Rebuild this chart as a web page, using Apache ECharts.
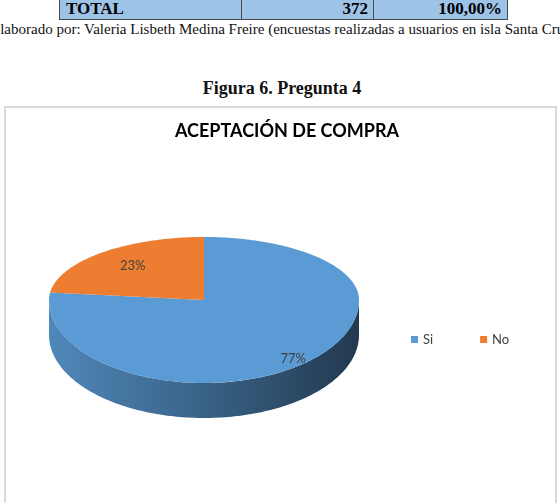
<!DOCTYPE html>
<html>
<head>
<meta charset="utf-8">
<script src="https://cdn.jsdelivr.net/npm/echarts@6/dist/echarts.min.js"></script>
<style>
  body { margin: 0; width: 560px; height: 503px; overflow: hidden; background: #fff; position: relative; font-family: "Liberation Serif", serif; }
  #tabla { position: absolute; left: 59px; top: -3px; border-collapse: collapse; }
  #tabla td { background: #9dc3e6; border: 1px solid #4a4a4a; font-weight: bold; font-size: 17px; height: 22px; padding: 0 5px 0 6px; box-sizing: border-box; }
  #fuente { position: absolute; left: -9px; top: 21px; font-size: 15px; white-space: nowrap; color: #111; }
  #figura { position: absolute; left: 0; width: 564px; top: 78px; text-align: center; font-weight: bold; font-size: 18px; color: #111; }
  #marco { position: absolute; left: 4px; top: 106px; width: 553px; height: 420px; border: 2px solid #dadada; box-sizing: border-box; }
  #main { position: absolute; left: 0; top: 0; width: 560px; height: 503px; }
</style>
</head>
<body>
<table id="tabla">
  <tr>
    <td style="width:182px">TOTAL</td>
    <td id="total" style="width:132px;text-align:right"></td>
    <td id="pct" style="width:134px;text-align:right"></td>
  </tr>
</table>
<div id="fuente">Elaborado por: Valeria Lisbeth Medina Freire (encuestas realizadas a usuarios en isla Santa Cruz)</div>
<div id="figura">Figura 6. Pregunta 4</div>
<div id="marco"></div>
<div id="main"></div>
<script>
// respuestas (suman 372)
const categories = ["Si", "No"];
const values = [286, 86];
const colors = ["#5B9BD5", "#ED7D31"];

const total = values.reduce((a, b) => a + b, 0);
document.getElementById("total").textContent = total;
document.getElementById("pct").textContent = "100,00%";

// geometria del pastel 3D
const CX = 204, CY = 300, RX = 155, RY_BACK = 63, RY_FRONT = 83, DEPTH = 35;

function pt(t, dy) {
  const s = Math.sin(t), c = Math.cos(t);
  const ry = c >= 0 ? RY_BACK : RY_FRONT;
  return [CX + RX * s, CY - ry * c + (dy || 0)];
}

function arc(a0, a1, dy) {
  const pts = [];
  const n = Math.max(2, Math.ceil((a1 - a0) / 0.02));
  for (let k = 0; k <= n; k++) pts.push(pt(a0 + (a1 - a0) * k / n, dy));
  return pts;
}

// oscurecer un color multiplicando sus canales
function shade(color, f) {
  const c = echarts.color.parse(color);
  return "rgb(" + Math.round(c[0] * f) + "," + Math.round(c[1] * f) + "," + Math.round(c[2] * f) + ")";
}

function renderSlice(idx) {
  return function (params, api) {
    let before = 0;
    for (let i = 0; i < idx; i++) before += values[i];
    const v = api.value(0);
    const a0 = 2 * Math.PI * before / total;
    const a1 = a0 + 2 * Math.PI * v / total;
    const color = colors[idx];
    const children = [];

    // lado visible (mitad frontal)
    const s0 = Math.max(a0, Math.PI / 2), s1 = Math.min(a1, 3 * Math.PI / 2);
    if (s1 > s0) {
      const pts = arc(s0, s1, 0).concat(arc(s0, s1, DEPTH).reverse());
      children.push({
        type: "polygon",
        shape: { points: pts },
        style: {
          fill: {
            type: "linear", x: CX - RX, y: 0, x2: CX + RX, y2: 0, global: true,
            colorStops: [
              { offset: 0, color: shade(color, 0.88) },
              { offset: 0.5, color: shade(color, 0.63) },
              { offset: 1, color: shade(color, 0.37) }
            ]
          }
        }
      });
    }

    // cara superior
    children.push({
      type: "polygon",
      shape: { points: [[CX, CY]].concat(arc(a0, a1, 0)) },
      style: { fill: color }
    });

    // etiqueta
    const m = (a0 + a1) / 2;
    const s = Math.sin(m), c = Math.cos(m);
    const ry = c >= 0 ? RY_BACK : RY_FRONT;
    children.push({
      type: "text",
      x: CX + 9 + RX * s * 0.78,
      y: CY + 6 - ry * c * 0.85,
      style: {
        text: Math.round(v / total * 100) + "%",
        fill: "#404040",
        font: "13px Lato",
        align: "center",
        verticalAlign: "middle"
      }
    });
    return { type: "group", children: children };
  };
}

const chart = echarts.init(document.getElementById("main"));
chart.setOption({
  animation: false,
  color: colors,
  title: {
    text: "ACEPTACIÓN DE COMPRA",
    left: 282,
    textAlign: "center",
    top: 117,
    textStyle: { fontFamily: "Lato", fontWeight: "bold", fontSize: 18, color: "#000" }
  },
  legend: {
    data: categories,
    left: 406,
    top: 328,
    icon: "rect",
    itemWidth: 7,
    itemHeight: 7,
    itemGap: 47,
    textStyle: { fontFamily: "Lato", fontSize: 13, color: "#404040" }
  },
  series: categories.map((name, i) => ({
    name: name,
    type: "custom",
    coordinateSystem: "none",
    itemStyle: { color: colors[i] },
    renderItem: renderSlice(i),
    data: [[values[i]]]
  }))
});
</script>
</body>
</html>
